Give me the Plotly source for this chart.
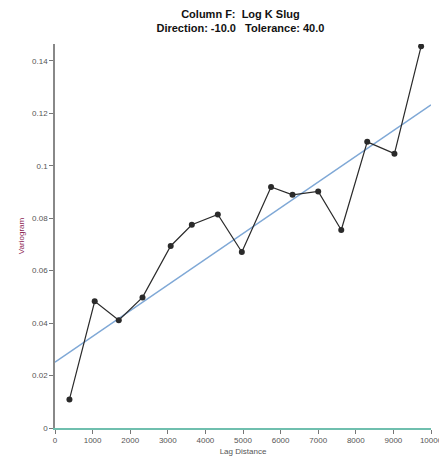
import plotly.graph_objects as go

lag = [384, 1056, 1696, 2327, 3077, 3639, 4330, 4969, 5746, 6317, 7000, 7613, 8304, 9028, 9737]
variogram = [0.0109, 0.0483, 0.0411, 0.0498, 0.0694, 0.0775, 0.0814, 0.0671, 0.0919, 0.0889, 0.0902, 0.0755, 0.1091, 0.1046, 0.1455]
model_x = [0, 10000]
model_y = [0.0251, 0.1232]
x_ticks = [0, 1000, 2000, 3000, 4000, 5000, 6000, 7000, 8000, 9000, 10000]
y_ticks = [0, 0.02, 0.04, 0.06, 0.08, 0.1, 0.12, 0.14]

fig = go.Figure()
fig.add_trace(go.Scatter(x=model_x, y=model_y, mode="lines",
                         line=dict(color="#7fa8d6", width=1.5), showlegend=False))
fig.add_trace(go.Scatter(x=lag, y=variogram, mode="lines+markers",
                         line=dict(color="#2a2a2a", width=1.2),
                         marker=dict(color="#2a2a2a", size=6), showlegend=False))

fig.update_layout(
    width=447, height=459,
    margin=dict(l=43, r=13, t=36, b=34),
    paper_bgcolor="white", plot_bgcolor="white",
    font=dict(family="Liberation Sans, Arial, sans-serif", size=8, color="#555"),
    title=dict(text="<b>Column F:  Log K Slug<br>Direction: -10.0   Tolerance: 40.0</b>",
               x=0.52, xanchor="center", yref="container", y=1 - 10 / 459, yanchor="middle",
               font=dict(size=11, color="#111")),
    xaxis=dict(range=[0, 10000], tickvals=x_ticks, ticktext=[str(v) for v in x_ticks],
               showgrid=False, zeroline=False, showline=True, linecolor="#6fbfae", linewidth=1.5,
               ticks="outside", ticklen=4, tickcolor="#777",
               title=dict(text="Lag Distance", standoff=4, font=dict(size=8, color="#555"))),
    yaxis=dict(range=[0, 0.1464], tickvals=y_ticks, ticktext=["0", "0.02", "0.04", "0.06", "0.08", "0.1", "0.12", "0.14"],
               showgrid=False, zeroline=False, showline=True, linecolor="#888", linewidth=1.5,
               ticks="outside", ticklen=4, tickcolor="#777",
               title=dict(text="Variogram", standoff=6, font=dict(size=8, color="#8b2252"))),
)

fig.write_html("out.html")
